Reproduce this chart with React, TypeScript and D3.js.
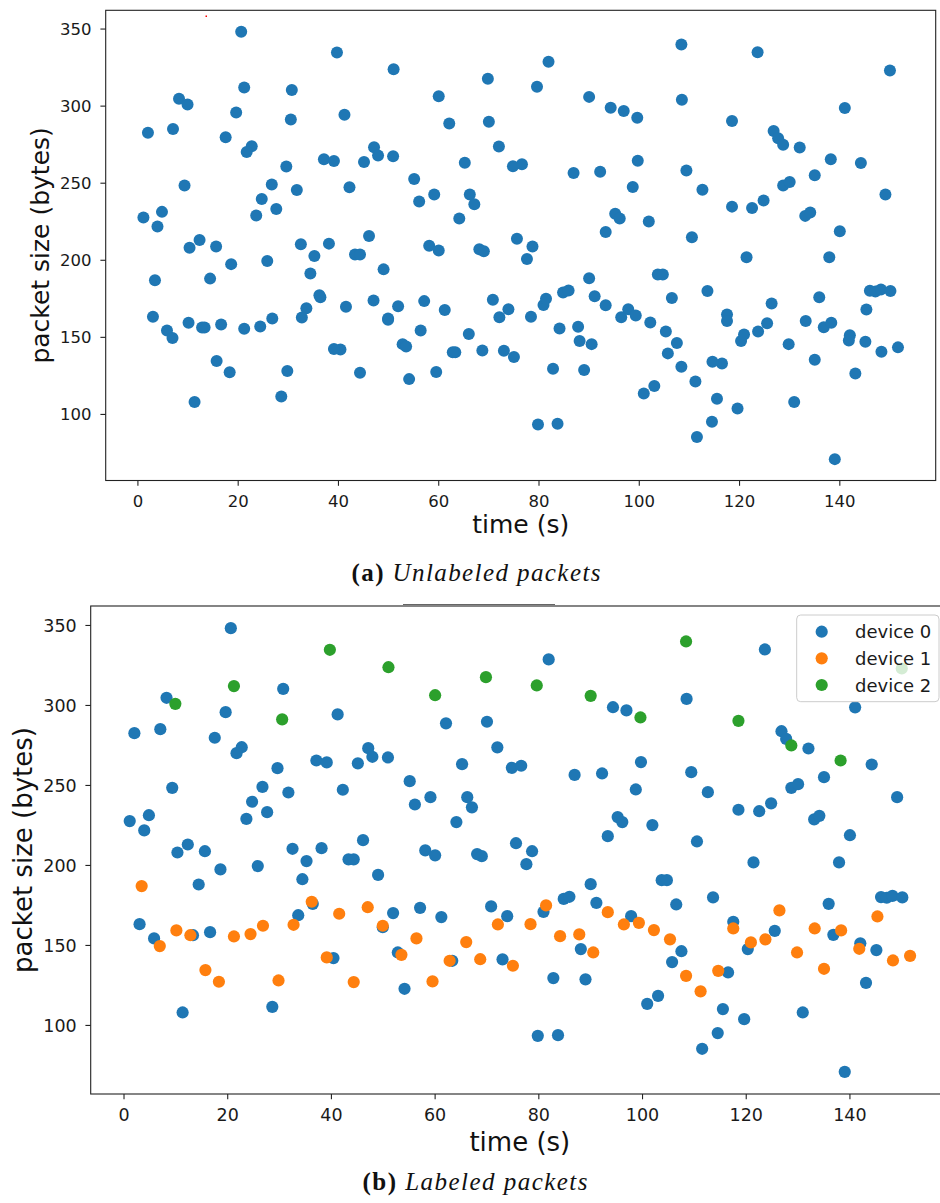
import React from 'react';
import * as d3 from 'd3';

// device 0 (blue): [time (s), packet size (bytes)]
const device0Points: [number, number][] = [
  [20.6,348.3],[30.7,310.4],[8.2,304.8],[19.6,295.8],[2.0,282.7],[7.0,285.2],[17.5,279.8],[22.7,273.9],[21.7,270.2],[29.6,260.8],
  [26.7,249.1],[31.7,245.6],[9.3,248.5],[24.7,239.8],[27.6,233.3],[23.6,229.1],[4.8,231.4],[1.1,227.7],[3.9,221.9],[12.3,213.1],
  [10.3,208.1],[15.6,208.9],[32.5,210.4],[35.2,202.7],[18.6,197.5],[25.8,199.6],[14.4,188.1],[34.4,191.4],[33.6,168.9],[3.0,163.3],
  [5.8,154.4],[13.3,156.4],[16.6,158.3],[28.6,111.6],[11.3,108.1],
  [41.2,294.4],[62.1,288.8],[70.0,289.8],[47.1,273.3],[47.9,267.9],[50.9,267.5],[37.1,265.6],[39.1,264.4],[45.1,263.8],[65.2,263.3],
  [72.0,273.8],[74.8,261.0],[55.1,252.7],[42.2,247.3],[59.1,242.7],[56.1,238.1],[66.2,242.7],[67.1,236.3],[64.1,227.1],[46.1,215.8],
  [38.1,210.8],[58.1,209.4],[75.6,213.9],[43.3,203.8],[44.3,203.8],[60.0,206.3],[68.1,207.1],[69.0,205.8],[49.0,194.1],[36.4,176.0],
  [51.9,170.2],[49.9,161.4],[57.1,173.5],[61.2,167.7],[70.8,174.4],[73.9,168.3],[40.4,142.1],[52.8,145.6],[63.3,140.4],[73.0,141.3],
  [54.1,122.9],
  [81.9,328.8],[94.3,298.9],[96.9,296.9],[108.5,304.1],[76.6,262.3],[86.9,256.6],[92.2,257.5],[99.7,264.6],[109.4,258.3],[112.6,245.8],
  [98.7,247.5],[95.2,230.2],[96.1,227.1],[101.9,225.2],[93.3,218.3],[110.5,215.0],[78.7,208.9],[77.6,200.8],[90.0,188.3],[103.7,190.8],
  [104.7,190.8],[113.6,180.0],[80.9,171.0],[84.8,179.1],[85.9,180.4],[91.1,176.6],[97.8,168.3],[106.5,175.6],[107.5,146.4],[105.7,139.6],
  [88.1,147.7],[82.8,129.6],[89.0,128.8],[103.0,118.5],[100.9,113.5],[115.5,110.2],[114.5,95.2],[111.5,85.4],[79.8,93.5],[83.7,93.9],
  [123.6,335.0],[141.0,298.8],[126.8,283.9],[127.7,279.1],[132.0,273.1],[144.2,263.1],[135.0,255.2],[128.7,248.5],[130.0,250.8],[149.1,242.7],
  [118.5,234.8],[122.5,233.9],[124.8,238.8],[133.1,228.8],[134.1,231.0],[140.0,218.9],[121.4,201.9],[137.9,201.9],[135.9,176.0],[146.0,180.2],
  [147.1,179.8],[148.2,181.0],[150.1,180.0],[117.5,164.8],[125.5,159.1],[136.8,156.6],[120.3,147.7],[142.0,151.3],[145.1,147.1],[116.5,133.1],
  [143.1,126.6],[119.6,103.9],[130.9,108.1],[139.0,71.0],
];

// device 1 (orange)
const device1Points: [number, number][] = [
  [3.4,187.1],[6.9,149.6],[10.1,159.4],[12.8,156.4],[15.7,134.6],[18.3,127.3],[21.2,155.6],[24.4,157.1],[26.8,162.3],[29.8,128.1],
  [32.7,162.9],[36.2,177.3],[39.1,142.5],[41.5,169.8],[44.3,127.1],[47.0,173.9],[49.9,162.3],[53.5,144.1],[56.4,154.4],[59.5,127.5],
  [62.8,140.4],[66.0,152.1],[68.7,141.4],[72.1,163.1],[75.0,137.3],[78.4,163.3],[81.4,175.0],[84.1,155.8],[87.8,156.9],[90.5,145.6],
  [93.3,170.8],[96.4,163.1],[99.3,164.1],[102.2,159.6],[105.3,153.8],[108.4,131.0],[111.2,121.3],[114.6,134.1],[117.5,160.6],[120.9,151.9],
  [123.7,153.8],[126.4,171.9],[129.8,145.6],[133.2,160.6],[135.0,135.4],[138.3,159.4],[141.8,147.9],[145.3,168.1],[148.3,140.6],[151.6,143.5],
];

// device 2 (green)
const device2Points: [number, number][] = [
  [9.9,301.0],[21.2,312.1],[30.5,291.3],[39.7,334.8],[51.0,323.9],[60.0,306.4],[69.8,317.7],[79.6,312.5],
  [90.0,306.0],[99.6,292.5],[108.4,340.0],[118.5,290.4],[128.7,275.0],[138.2,265.6],[150.0,323.1],
];

const xTickValues = [0, 20, 40, 60, 80, 100, 120, 140];
const yTickValues = [100, 150, 200, 250, 300, 350];
const legendLabels = ['device 0', 'device 1', 'device 2'];
const deviceColors = ['#1f77b4', '#ff7f0e', '#2ca02c'];
const xLabel = 'time (s)';
const yLabel = 'packet size (bytes)';

const allPoints = [...device0Points, ...device1Points, ...device2Points];
const tExt = d3.extent(allPoints, (d) => d[0]) as [number, number];
const vExt = d3.extent(allPoints, (d) => d[1]) as [number, number];
const tPad = (tExt[1] - tExt[0]) * 0.05;
const vPad = (vExt[1] - vExt[0]) * 0.05;
const xDomain: [number, number] = [tExt[0] - tPad, tExt[1] + tPad];
const yDomain: [number, number] = [vExt[0] - vPad, vExt[1] + vPad];

const FONT = 'DejaVu Sans, sans-serif';
const AXIS = '#222';

type PanelProps = {
  id: string;
  left: number; right: number; top: number; bottom: number;
  tickFont: number; labelFont: number;
  yTickEnd: number; xTickCenter: number; xLabelBase: number; yLabelBase: number;
  colored: boolean; r: number;
};

function Panel(p: PanelProps) {
  const x = d3.scaleLinear().domain(xDomain).range([p.left, p.right]);
  const y = d3.scaleLinear().domain(yDomain).range([p.bottom, p.top]);
  const series = [device0Points, device1Points, device2Points];
  const tick = 5.3;
  const cx = (p.left + Math.min(p.right, 949)) / 2;
  const cy = (p.top + p.bottom) / 2;
  return (
    <g>
      <defs>
        <clipPath id={p.id}>
          <rect x={p.left} y={p.top} width={p.right - p.left} height={p.bottom - p.top} />
        </clipPath>
      </defs>
      <g clipPath={`url(#${p.id})`}>
        {series.map((pts, si) =>
          pts.map((d, i) => (
            <circle key={`${si}-${i}`} cx={x(d[0])} cy={y(d[1])} r={p.r}
              fill={p.colored ? deviceColors[si] : deviceColors[0]} />
          ))
        )}
      </g>
      <rect x={p.left} y={p.top} width={p.right - p.left} height={p.bottom - p.top}
        fill="none" stroke={AXIS} strokeWidth={1.1} />
      {yTickValues.map((v) => (
        <g key={`yt${v}`}>
          <line x1={p.left - tick} x2={p.left} y1={y(v)} y2={y(v)} stroke={AXIS} strokeWidth={1.1} />
          <text x={p.yTickEnd} y={y(v) + p.tickFont * 0.365} textAnchor="end"
            fontFamily={FONT} fontSize={p.tickFont} fill="#1a1a1a">{v}</text>
        </g>
      ))}
      {xTickValues.map((t) => (
        <g key={`xt${t}`}>
          <line x1={x(t)} x2={x(t)} y1={p.bottom} y2={p.bottom + tick} stroke={AXIS} strokeWidth={1.1} />
          <text x={x(t)} y={p.xTickCenter + p.tickFont * 0.365} textAnchor="middle"
            fontFamily={FONT} fontSize={p.tickFont} fill="#1a1a1a">{t}</text>
        </g>
      ))}
      <text x={cx} y={p.xLabelBase} textAnchor="middle" fontFamily={FONT}
        fontSize={p.labelFont} fill="#111">{xLabel}</text>
      <text transform={`translate(${p.yLabelBase},${cy}) rotate(-90)`} textAnchor="middle"
        fontFamily={FONT} fontSize={p.labelFont} fill="#111">{yLabel}</text>
    </g>
  );
}

export default function App() {
  const legendTop = 615;
  const legendRow = 26.65;
  return (
    <svg width={940} height={1203} style={{ position: 'absolute', left: 0, top: 0, background: '#fff' }}
      xmlns="http://www.w3.org/2000/svg">
      <rect x={0} y={0} width={940} height={1203} fill="#fff" />
      <Panel id="clipA" left={105.7} right={935.7} top={10.3} bottom={480.5}
        tickFont={16.5} labelFont={25} yTickEnd={91.5} xTickCenter={500.7}
        xLabelBase={533} yLabelBase={48.5} colored={false} r={6} />
      <rect x={205.5} y={15.5} width={1.5} height={1.5} fill="#ff0000" />
      <text x={476} y={581} textAnchor="middle" fontFamily="Liberation Serif, serif" fontSize={25}
        textLength={249} lengthAdjust="spacing" fill="#111">
        <tspan fontWeight="bold">(a)</tspan>
        <tspan fontStyle="italic">{' Unlabeled packets'}</tspan>
      </text>

      <line x1={403} x2={555} y1={604.5} y2={604.5} stroke="#666" strokeWidth={1} />
      <Panel id="clipB" left={90.7} right={949.1} top={606} bottom={1094}
        tickFont={17.5} labelFont={26} yTickEnd={76.7} xTickCenter={1114.5}
        xLabelBase={1151} yLabelBase={31.5} colored={true} r={6.1} />
      <g>
        <rect x={796.7} y={legendTop} width={142.3} height={86.7} rx={4} ry={4}
          fill="#fff" fillOpacity={0.8} stroke="#cccccc" strokeWidth={1} />
        {legendLabels.map((lab, i) => (
          <g key={lab}>
            <circle cx={821.7} cy={legendTop + 16.7 + i * legendRow} r={6.1} fill={deviceColors[i]} />
            <text x={855} y={legendTop + 16.7 + i * legendRow + 6.5} fontFamily={FONT}
              fontSize={18} fill="#1a1a1a">{lab}</text>
          </g>
        ))}
      </g>
      <text x={475} y={1190} textAnchor="middle" fontFamily="Liberation Serif, serif" fontSize={25}
        textLength={225} lengthAdjust="spacing" fill="#111">
        <tspan fontWeight="bold">(b)</tspan>
        <tspan fontStyle="italic">{' Labeled packets'}</tspan>
      </text>
    </svg>
  );
}
